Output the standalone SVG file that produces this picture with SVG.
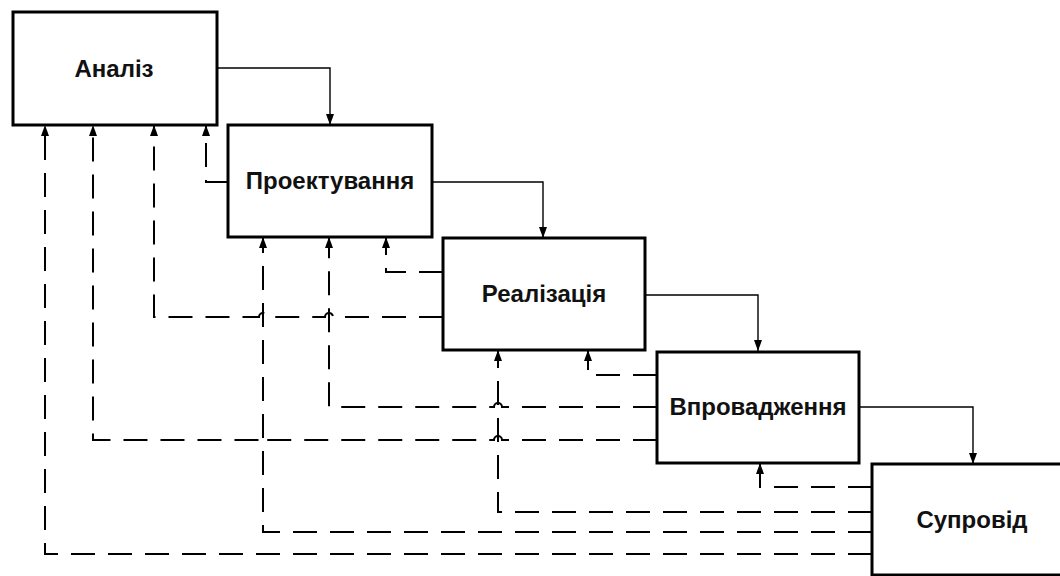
<svg xmlns="http://www.w3.org/2000/svg" width="1060" height="576" viewBox="0 0 1060 576">
  <defs>
    <marker id="arrow" markerUnits="userSpaceOnUse" markerWidth="12" markerHeight="8" refX="11" refY="4" orient="auto">
      <path d="M0,0 L11,4 L0,8 Z" fill="#000"/>
    </marker>
    <style>
      .box { fill: #fff; stroke: #000; stroke-width: 3; }
      .label { font-family: "Liberation Sans", Arial, sans-serif; font-weight: bold; font-size: 24px; fill: #111; text-anchor: middle; }
      .flow { fill: none; stroke: #000; stroke-width: 1.4; marker-end: url(#arrow); }
      .back { fill: none; stroke: #000; stroke-width: 2; stroke-dasharray: 24 13; marker-end: url(#arrow); }
    </style>
  </defs>
  <rect width="1060" height="576" fill="#fff"/>

  <!-- process stages -->
  <g id="analysis">
    <rect class="box" x="13" y="12" width="204" height="113"/>
    <text class="label" x="114" y="77">Аналіз</text>
  </g>
  <g id="design">
    <rect class="box" x="228" y="125" width="204" height="112"/>
    <text class="label" x="330" y="189">Проектування</text>
  </g>
  <g id="implementation">
    <rect class="box" x="443" y="238" width="202" height="112"/>
    <text class="label" x="544" y="302">Реалізація</text>
  </g>
  <g id="deployment">
    <rect class="box" x="657" y="352" width="202" height="111"/>
    <text class="label" x="758" y="415">Впровадження</text>
  </g>
  <g id="maintenance">
    <rect class="box" x="872" y="464" width="220" height="111"/>
    <text class="label" x="972" y="528">Супровід</text>
  </g>

  <g id="connectors">
    <!-- forward flow between stages -->
    <path class="flow" d="M217,68 H330 V125"/>
    <path class="flow" d="M432,182 H543 V238"/>
    <path class="flow" d="M645,295 H758 V351"/>
    <path class="flow" d="M859,407 H973 V464"/>

    <!-- returns from design -->
    <path class="back" d="M228,182 H206 V125"/>

    <!-- returns from implementation -->
    <path class="back" d="M443,272 H386 V237"/>
    <path class="back" d="M443,317 H333 A4,4 0 0 0 325,317 H267 A4,4 0 0 0 259,317 H154 V125"/>

    <!-- returns from deployment -->
    <path class="back" d="M657,375 H588 V350"/>
    <path class="back" d="M657,407 H502 A4,4 0 0 0 494,407 H329 V237"/>
    <path class="back" d="M657,440 H502 A4,4 0 0 0 494,440 H267 A4,4 0 0 0 259,440 H93 V125"/>

    <!-- returns from maintenance -->
    <path class="back" d="M872,487 H760 V463"/>
    <path class="back" d="M872,512 H498 V350"/>
    <path class="back" d="M872,532 H263 V237"/>
    <path class="back" d="M872,554 H45 V125"/>
  </g>
</svg>
